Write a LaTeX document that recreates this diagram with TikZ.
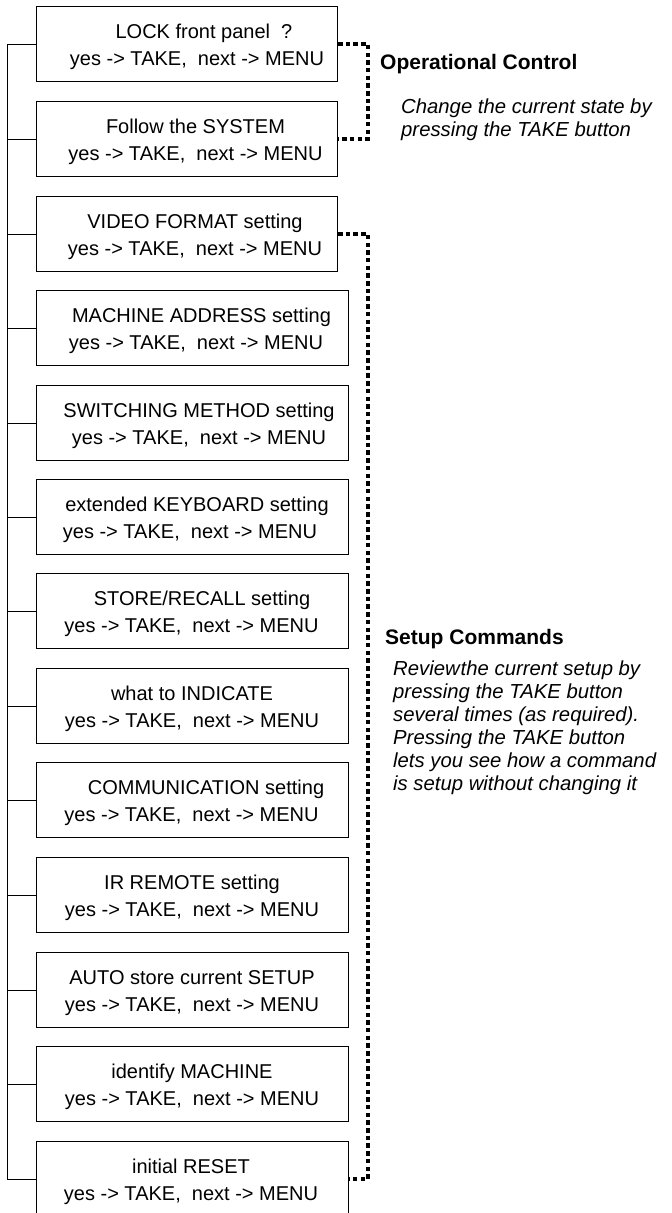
\documentclass[tikz,border=0pt]{standalone}
\usepackage{fontspec}
\setmainfont{Liberation Sans}
\begin{document}
\begin{tikzpicture}[x=1pt,y=-1pt,
  box/.style={draw, line width=1pt, minimum height=75pt, inner sep=0pt, anchor=north west},
  narrow/.style={box, minimum width=301pt},
  wide/.style={box, minimum width=312pt},
  txt/.style={align=center, inner sep=0pt, font=\fontsize{20}{27.3}\selectfont},
  conn/.style={line width=1pt},
  dbr/.style={line width=4.5pt, dash pattern=on 4.5pt off 3.2pt, line cap=butt, line join=miter},
  head/.style={inner sep=0pt, anchor=base west, font=\fontsize{21}{25}\selectfont\bfseries},
  desc/.style={inner sep=0pt, anchor=north west, align=left, font=\fontsize{20.3}{23}\selectfont\itshape}
]
\useasboundingbox (0,0) rectangle (672,1213);

% boxes
\node[narrow] (b1) at (36,6) {};
\node[narrow] (b2) at (36,101) {};
\node[narrow] (b3) at (36,196) {};
\node[wide] (b4) at (36,290) {};
\node[wide] (b5) at (36,385) {};
\node[wide] (b6) at (36,479) {};
\node[wide] (b7) at (36,573) {};
\node[wide] (b8) at (36,668) {};
\node[wide] (b9) at (36,762) {};
\node[wide] (b10) at (36,857) {};
\node[wide] (b11) at (36,952) {};
\node[wide] (b12) at (36,1046) {};
\node[wide] (b13) at (36,1141) {};

% texts
\node[txt] (t1) at (197,47) {\hspace*{14pt}LOCK front panel\ \ ?\\yes -> TAKE,\ \ next -> MENU};
\node[txt] (t2) at (195.5,142) {Follow the SYSTEM\\yes -> TAKE,\ \ next -> MENU};
\node[txt] (t3) at (195,237) {VIDEO FORMAT setting\\yes -> TAKE,\ \ next -> MENU};
\node[txt] (t4) at (196,331) {\hspace*{11pt}MACHINE ADDRESS setting\\yes -> TAKE,\ \ next -> MENU};
\node[txt] (t5) at (199,426) {SWITCHING METHOD setting\\yes -> TAKE,\ \ next -> MENU};
\node[txt] (t6) at (190,520) {\hspace*{14pt}extended KEYBOARD setting\\yes -> TAKE,\ \ next -> MENU};
\node[txt] (t7) at (191.5,614) {\hspace*{21pt}STORE/RECALL setting\\yes -> TAKE,\ \ next -> MENU};
\node[txt] (t8) at (192,709) {what to INDICATE\\yes -> TAKE,\ \ next -> MENU};
\node[txt] (t9) at (191.5,803) {\hspace*{29pt}COMMUNICATION setting\\yes -> TAKE,\ \ next -> MENU};
\node[txt] (t10) at (192,898) {IR REMOTE setting\\yes -> TAKE,\ \ next -> MENU};
\node[txt] (t11) at (192,993) {AUTO store current SETUP\\yes -> TAKE,\ \ next -> MENU};
\node[txt] (t12) at (192,1087) {identify MACHINE\\yes -> TAKE,\ \ next -> MENU};
\node[txt] (t13) at (191,1182) {initial RESET\\yes -> TAKE,\ \ next -> MENU};

% left spine
\coordinate (spine) at (7,0);
\draw[conn] (b1.west) -- (b1.west -| spine) -- (b13.west -| spine) -- (b13.west);
\foreach \i in {2,...,12} \draw[conn] (b\i.west) -- (b\i.west -| spine);

% dashed brackets
\coordinate (rail) at (368,0);
\draw[dbr] (b1.east) -- (b1.east -| rail) -- (b2.east -| rail) -- (b2.east);
\draw[dbr] (b3.east) -- (b3.east -| rail) -- (b13.east -| rail) -- (b13.east);

% annotations
\node[head] (oc) at (380,69) {Operational Control};
\node[desc] (ocd) at (401,99) {Change the current state by\\pressing the TAKE button};
\node[head] (sc) at (385,644) {Setup Commands};
\node[desc] (scd) at (393,660.5) {Review\kern1pt the current setup by\\pressing the TAKE button\\several times (as required).\\Pressing the TAKE button\\lets you see how a command\\is setup without changing it};
\end{tikzpicture}
\end{document}
